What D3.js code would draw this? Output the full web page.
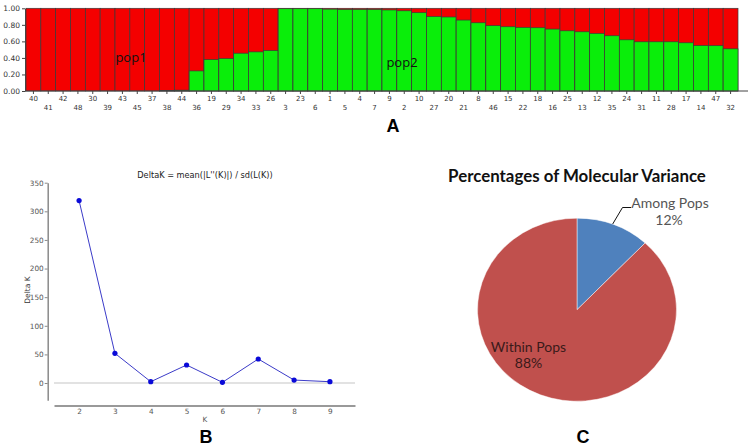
<!DOCTYPE html>
<html>
<head>
<meta charset="utf-8">
<script src="https://cdn.jsdelivr.net/npm/d3@7/dist/d3.min.js"></script>
<style>
html,body{margin:0;padding:0;background:#fff;}
svg{display:block;}
</style>
</head>
<body>
<svg id="chart" width="749" height="446"></svg>
<script>
// ---------- DATA ----------
const structureLabels = ["40","41","42","48","30","39","43","45","37","38","44","36","19","29","34","33","26","3","23","6","1","5","4","7","9","2","10","27","20","21","8","46","15","22","18","16","25","13","12","35","24","31","11","28","17","14","47","32"];
const pop2Membership = [0,0,0,0,0,0,0,0,0,0.005,0.01,0.243,0.38,0.393,0.457,0.473,0.49,0.995,0.995,0.995,0.99,0.985,0.985,0.985,0.98,0.97,0.947,0.90,0.895,0.858,0.825,0.79,0.777,0.77,0.765,0.749,0.728,0.716,0.697,0.668,0.619,0.595,0.595,0.595,0.583,0.55,0.548,0.51];
const yTicksA = [0,0.2,0.4,0.6,0.8,1.0];
const groupLabels = ["pop1","pop2"];

const kValues = [2,3,4,5,6,7,8,9];
const deltaK = [318.7,51.9,2.3,31.5,1.2,42,5.2,2.3];
const yTicksB = [0,50,100,150,200,250,300,350];

const amovaCategories = ["Among Pops","Within Pops"];
const amovaPercent = [12,88];

// ---------- SETUP ----------
const svg = d3.select("#chart");
const FONT = "DejaVu Sans, Verdana, sans-serif";

// ---------- PANEL A : STRUCTURE bar plot ----------
const xA = d3.scaleBand().domain(structureLabels).range([26, 738]).padding(0);
const yA = d3.scaleLinear().domain([0, 1]).range([91, 8.3]);
const gA = svg.append("g");

const barsA = gA.selectAll("g.bar").data(structureLabels.map((l, i) => ({l, v: pop2Membership[i]})))
  .enter().append("g").attr("class", "bar");
barsA.append("rect")
  .attr("x", d => xA(d.l)).attr("width", xA.bandwidth())
  .attr("y", yA(1)).attr("height", yA(0) - yA(1))
  .attr("fill", "#f40000").attr("stroke", "#3a3a3a").attr("stroke-width", 0.7);
barsA.filter(d => d.v > 0).append("rect")
  .attr("x", d => xA(d.l)).attr("width", xA.bandwidth())
  .attr("y", d => yA(d.v)).attr("height", d => yA(0) - yA(d.v))
  .attr("fill", "#0aee0a").attr("stroke", "#3a3a3a").attr("stroke-width", 0.7);

// y axis A
const axA = gA.append("g").attr("transform", "translate(25,0)")
  .call(d3.axisLeft(yA).tickValues(yTicksA).tickFormat(d3.format(".2f")).tickSize(3).tickSizeOuter(0).tickPadding(2));
axA.select(".domain").attr("stroke", "#444");
axA.selectAll(".tick line").attr("stroke", "#444");
axA.selectAll("text").attr("font-family", FONT).attr("font-size", 7.5).attr("fill", "#333");

// x axis A line
gA.append("line").attr("x1", 25).attr("x2", 748).attr("y1", yA(0)).attr("y2", yA(0))
  .attr("stroke", "#444").attr("stroke-width", 1);
// x ticks & labels (staggered)
const axXA = gA.append("g").attr("transform", `translate(0,${yA(0)})`)
  .call(d3.axisBottom(xA).tickSize(3).tickSizeOuter(0).tickPadding(2));
axXA.select(".domain").remove();
axXA.selectAll(".tick line").attr("stroke", "#444");
axXA.selectAll(".tick text").attr("font-family", FONT).attr("font-size", 7).attr("fill", "#333")
  .attr("dy", (d, i) => i % 2 === 0 ? "0.71em" : "1.95em");

gA.append("text").attr("x", 131).attr("y", 62).attr("text-anchor", "middle")
  .attr("font-family", "Open Sans, sans-serif").attr("font-size", 13).attr("fill", "#111").text(groupLabels[0]);
gA.append("text").attr("x", 402).attr("y", 67).attr("text-anchor", "middle")
  .attr("font-family", "Open Sans, sans-serif").attr("font-size", 13).attr("fill", "#111").text(groupLabels[1]);

svg.append("text").attr("x", 393).attr("y", 132).attr("text-anchor", "middle")
  .attr("font-family", "Liberation Sans, Arial, sans-serif").attr("font-weight", "bold").attr("font-size", 18).text("A");

// ---------- PANEL B : DeltaK ----------
const xB = d3.scaleLinear().domain([1.3, 9.7]).range([54, 355]);
const yB = d3.scaleLinear().domain([-30, 350]).range([400.2, 182.7]);
const gB = svg.append("g");

gB.append("text").attr("x", 205).attr("y", 178).attr("text-anchor", "middle")
  .attr("font-family", FONT).attr("font-size", 8.2).attr("fill", "#222")
  .text("DeltaK = mean(|L''(K)|) / sd(L(K))");

// zero line
gB.append("line").attr("x1", xB.range()[0]).attr("x2", xB.range()[1])
  .attr("y1", yB(0)).attr("y2", yB(0)).attr("stroke", "#e2e2e2").attr("stroke-width", 2);

const axYB = gB.append("g").attr("transform", "translate(47.7,0)")
  .call(d3.axisLeft(yB).tickValues(yTicksB).tickSize(3).tickSizeOuter(0).tickPadding(1));
axYB.select(".domain").attr("stroke", "#8a8a8a").attr("stroke-width", 1.5);
axYB.selectAll(".tick line").attr("stroke", "#8a8a8a");
axYB.selectAll("text").attr("font-family", FONT).attr("font-size", 7.3).attr("fill", "#555");

const axXB = gB.append("g").attr("transform", "translate(0,405.5)")
  .call(d3.axisBottom(xB).tickValues(kValues).tickSize(0).tickSizeOuter(0).tickPadding(3));
axXB.select(".domain").attr("stroke", "#777").attr("stroke-width", 1.5);
axXB.selectAll("text").attr("font-family", FONT).attr("font-size", 7.3).attr("fill", "#555");

gB.append("text").attr("x", 205).attr("y", 422).attr("text-anchor", "middle")
  .attr("font-family", FONT).attr("font-size", 7.3).attr("fill", "#555").text("K");
gB.append("text").attr("transform", "translate(30,290) rotate(-90)").attr("text-anchor", "middle")
  .attr("font-family", FONT).attr("font-size", 7.5).attr("fill", "#333").text("Delta K");

const pts = kValues.map((k, i) => [xB(k), yB(deltaK[i])]);
gB.append("path").attr("d", d3.line()(pts)).attr("fill", "none").attr("stroke", "#3b3bc8").attr("stroke-width", 1);
gB.selectAll("circle.pt").data(pts).enter().append("circle").attr("class", "pt")
  .attr("cx", d => d[0]).attr("cy", d => d[1]).attr("r", 2.6).attr("fill", "#0a0ad8");

svg.append("text").attr("x", 206).attr("y", 443).attr("text-anchor", "middle")
  .attr("font-family", "Liberation Sans, Arial, sans-serif").attr("font-weight", "bold").attr("font-size", 18).text("B");

// ---------- PANEL C : AMOVA pie ----------
const gC = svg.append("g");
const titleC = gC.append("text").attr("x", 577).attr("y", 182).attr("text-anchor", "middle")
  .attr("font-family", "Lato, Open Sans, sans-serif").attr("font-weight", "bold").attr("font-size", 15).attr("fill", "#111")
  .text("Percentages of Molecular Variance");
const tw = titleC.node().getComputedTextLength();
titleC.attr("font-size", 15 * 258 / tw);

const pieGen = d3.pie().sort(null).value(d => d);
const arcGen = d3.arc().innerRadius(0).outerRadius(99.5);
const pieColors = ["#4f81bd", "#c0504d"];
const pg = gC.append("g").attr("transform", "translate(577,309.7) scale(1,0.92)");
pg.selectAll("path").data(pieGen(amovaPercent)).enter().append("path")
  .attr("d", arcGen).attr("fill", (d, i) => pieColors[i]).attr("stroke", "#fff").attr("stroke-width", 0.5);

// leader line
gC.append("path").attr("d", "M612.7,224 L622.5,207.5 L631,207.5").attr("fill", "none").attr("stroke", "#111").attr("stroke-width", 1);

const lblFont = "Lato, Open Sans, sans-serif";
gC.append("text").attr("x", 670).attr("y", 208).attr("text-anchor", "middle")
  .attr("font-family", lblFont).attr("font-size", 14).attr("fill", "#555").text(amovaCategories[0]);
gC.append("text").attr("x", 669).attr("y", 225).attr("text-anchor", "middle")
  .attr("font-family", lblFont).attr("font-size", 14).attr("fill", "#555").text(amovaPercent[0] + "%");
gC.append("text").attr("x", 528.5).attr("y", 351.5).attr("text-anchor", "middle")
  .attr("font-family", lblFont).attr("font-size", 14).attr("fill", "#3a1a1a").text(amovaCategories[1]);
gC.append("text").attr("x", 528.5).attr("y", 368).attr("text-anchor", "middle")
  .attr("font-family", lblFont).attr("font-size", 14).attr("fill", "#3a1a1a").text(amovaPercent[1] + "%");

svg.append("text").attr("x", 583).attr("y", 443).attr("text-anchor", "middle")
  .attr("font-family", "Liberation Sans, Arial, sans-serif").attr("font-weight", "bold").attr("font-size", 18).text("C");
</script>
</body>
</html>
